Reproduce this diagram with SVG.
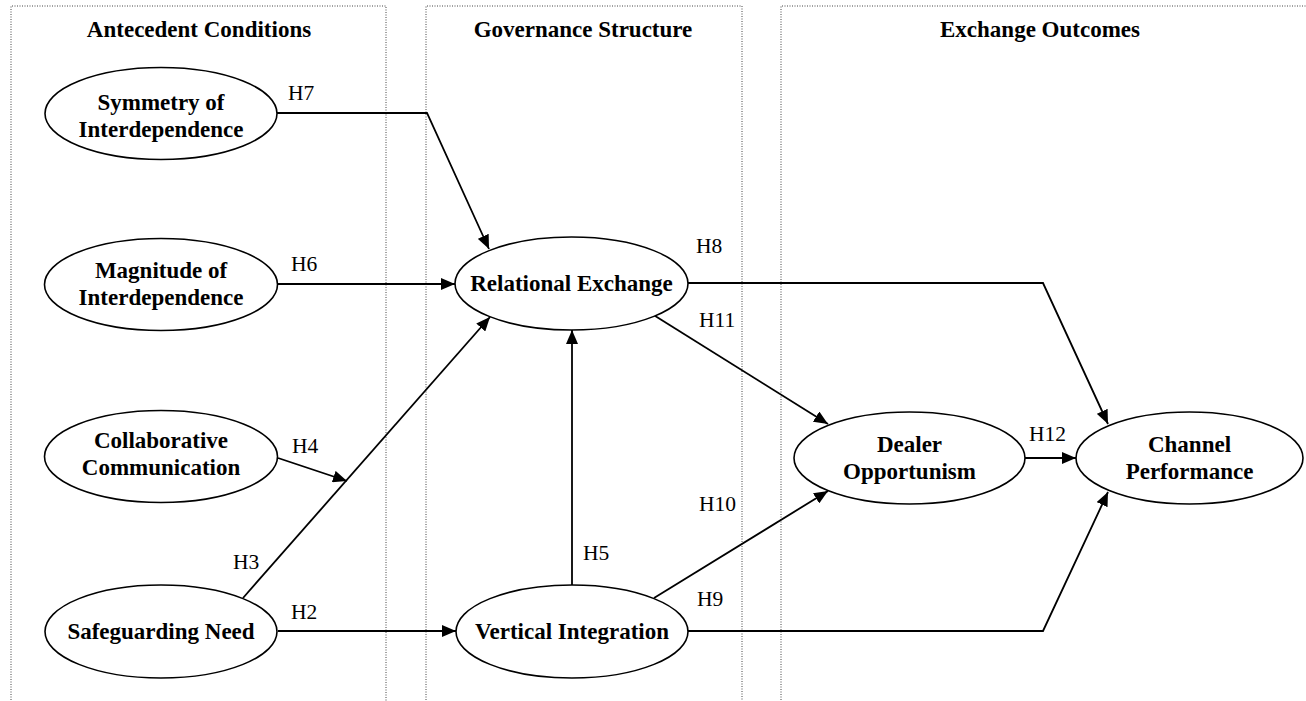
<svg xmlns="http://www.w3.org/2000/svg" width="1306" height="701" viewBox="0 0 1306 701">
  <style>
    .panel { fill: none; stroke: #444; stroke-width: 1; stroke-dasharray: 1 1.5; }
    .head { font-family: "Liberation Serif", "Times New Roman", serif; font-size: 23px; font-weight: bold; text-anchor: middle; fill: #000; }
    .node ellipse { fill: #fff; stroke: #000; stroke-width: 1.6; }
    .node text { font-family: "Liberation Serif", "Times New Roman", serif; font-size: 23px; font-weight: bold; text-anchor: middle; fill: #000; }
    .edge { fill: none; stroke: #000; stroke-width: 1.8; }
    .lbl { font-family: "Liberation Serif", "Times New Roman", serif; font-size: 21.5px; fill: #000; }
  </style>
  <defs>
    <marker id="arrow" markerUnits="userSpaceOnUse" markerWidth="14" markerHeight="12" refX="14" refY="6" orient="auto">
      <path d="M0,0 L14,6 L0,12 Z" fill="#000"/>
    </marker>
  </defs>

  <rect width="1306" height="701" fill="#fff"/>

  <!-- column panels (open at the bottom) -->
  <g id="panels">
    <path class="panel" d="M11,710 V6 H386 V710"/>
    <path class="panel" d="M426,710 V6 H742 V710"/>
    <path class="panel" d="M781,710 V6 H1310"/>
    <text class="head" x="199" y="37">Antecedent Conditions</text>
    <text class="head" x="583" y="37">Governance Structure</text>
    <text class="head" x="1040" y="37">Exchange Outcomes</text>
  </g>

  <!-- connectors -->
  <g id="connectors">
    <path class="edge" d="M277,113 H427 L489,249" marker-end="url(#arrow)"/>
    <path class="edge" d="M278,284 H455" marker-end="url(#arrow)"/>
    <path class="edge" d="M278,458 L347,481" marker-end="url(#arrow)"/>
    <path class="edge" d="M243,598 L490,317" marker-end="url(#arrow)"/>
    <path class="edge" d="M278,631 H456" marker-end="url(#arrow)"/>
    <path class="edge" d="M572,585 V330" marker-end="url(#arrow)"/>
    <path class="edge" d="M652,314 L828,424" marker-end="url(#arrow)"/>
    <path class="edge" d="M654,598 L828,491" marker-end="url(#arrow)"/>
    <path class="edge" d="M688,283 H1043 L1108,424" marker-end="url(#arrow)"/>
    <path class="edge" d="M688,631 H1043 L1108,492" marker-end="url(#arrow)"/>
    <path class="edge" d="M1025,458 H1076" marker-end="url(#arrow)"/>

    <text class="lbl" x="288" y="100">H7</text>
    <text class="lbl" x="291" y="271">H6</text>
    <text class="lbl" x="292" y="453">H4</text>
    <text class="lbl" x="233" y="569">H3</text>
    <text class="lbl" x="291" y="619">H2</text>
    <text class="lbl" x="696" y="253">H8</text>
    <text class="lbl" x="699" y="327">H11</text>
    <text class="lbl" x="583" y="560">H5</text>
    <text class="lbl" x="699" y="511">H10</text>
    <text class="lbl" x="697" y="606">H9</text>
    <text class="lbl" x="1029" y="441">H12</text>
  </g>

  <!-- nodes -->
  <g id="symmetry" class="node">
    <ellipse cx="161" cy="113.5" rx="116" ry="46"/>
    <text x="161" y="110">Symmetry of</text>
    <text x="161" y="137">Interdependence</text>
  </g>
  <g id="magnitude" class="node">
    <ellipse cx="161" cy="284.5" rx="116.5" ry="46"/>
    <text x="161" y="278">Magnitude of</text>
    <text x="161" y="305">Interdependence</text>
  </g>
  <g id="collaborative" class="node">
    <ellipse cx="161" cy="456.5" rx="116.5" ry="46"/>
    <text x="161" y="448">Collaborative</text>
    <text x="161" y="475">Communication</text>
  </g>
  <g id="safeguarding" class="node">
    <ellipse cx="161" cy="631.5" rx="116" ry="46.5"/>
    <text x="161" y="639">Safeguarding Need</text>
  </g>
  <g id="relational" class="node">
    <ellipse cx="571.5" cy="283.5" rx="116.5" ry="46.5"/>
    <text x="571.5" y="291">Relational Exchange</text>
  </g>
  <g id="vertical" class="node">
    <ellipse cx="572" cy="631.5" rx="116" ry="46.5"/>
    <text x="572" y="639">Vertical Integration</text>
  </g>
  <g id="dealer" class="node">
    <ellipse cx="909.5" cy="458" rx="115.5" ry="46"/>
    <text x="909.5" y="452">Dealer</text>
    <text x="909.5" y="479">Opportunism</text>
  </g>
  <g id="channel" class="node">
    <ellipse cx="1189.5" cy="458" rx="113.5" ry="46"/>
    <text x="1189.5" y="452">Channel</text>
    <text x="1189.5" y="479">Performance</text>
  </g>
</svg>
